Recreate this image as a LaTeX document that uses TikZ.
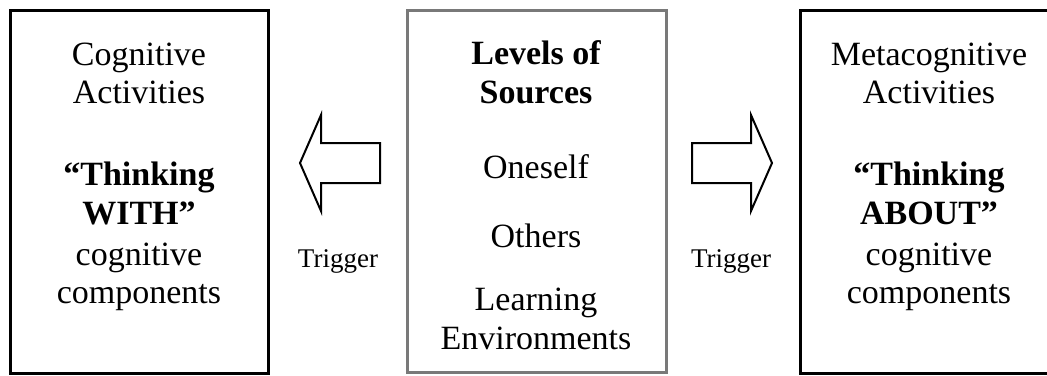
\documentclass[tikz,border=0pt]{standalone}
\usepackage{fontspec}
\setmainfont{Liberation Serif}
\begin{document}
\begin{tikzpicture}[x=1pt,y=-1pt,
  box/.style={line width=3pt,draw=black,fill=white},
  gbox/.style={line width=3pt,draw=gray!95!black,fill=white},
  blockarrow/.style={line width=2pt,draw=black,fill=white,line join=miter},
  txt/.style={anchor=base,inner sep=0pt,font=\fontsize{34}{39}\selectfont},
  btxt/.style={txt,font=\fontsize{34}{39}\selectfont\bfseries},
  trig/.style={anchor=base,inner sep=0pt,font=\fontsize{27}{31}\selectfont}]
\useasboundingbox (0,0) rectangle (1047,375);
\clip (0,0) rectangle (1047,375);
% boxes
\draw[box] (10,10) rectangle (268,373);
\draw[gbox] (407,10) rectangle (666,372);
\draw[box] (800,10) rectangle (1060,373);
% left box text
\node[txt] (l1) at (139,65) {Cognitive};
\node[txt] (l2) at (139,103) {Activities};
\node[btxt] (l3) at (139,185) {``Thinking};
\node[btxt] (l4) at (139,224) {WITH''};
\node[txt] (l5) at (139,265) {cognitive};
\node[txt] (l6) at (139,303) {components};
% middle box text
\node[btxt] (m1) at (536,64) {Levels of};
\node[btxt] (m2) at (536,103) {Sources};
\node[txt] (m3) at (536,178) {Oneself};
\node[txt] (m4) at (536,247) {Others};
\node[txt] (m5) at (536,310) {Learning};
\node[txt] (m6) at (536,349) {Environments};
% right box text
\node[txt] (r1) at (929,65) {Metacognitive};
\node[txt] (r2) at (929,103) {Activities};
\node[btxt] (r3) at (929,185) {``Thinking};
\node[btxt] (r4) at (929,224) {ABOUT''};
\node[txt] (r5) at (929,265) {cognitive};
\node[txt] (r6) at (929,303) {components};
% block arrows
\draw[blockarrow] (300,163) -- (321,115) -- (321,143) -- (380,143) -- (380,183) -- (321,183) -- (321,211) -- cycle;
\draw[blockarrow] (772,163) -- (751,115) -- (751,143) -- (692,143) -- (692,183) -- (751,183) -- (751,211) -- cycle;
\node[trig] (t1) at (338,267) {Trigger};
\node[trig] (t2) at (731,267) {Trigger};
\end{tikzpicture}
\end{document}
